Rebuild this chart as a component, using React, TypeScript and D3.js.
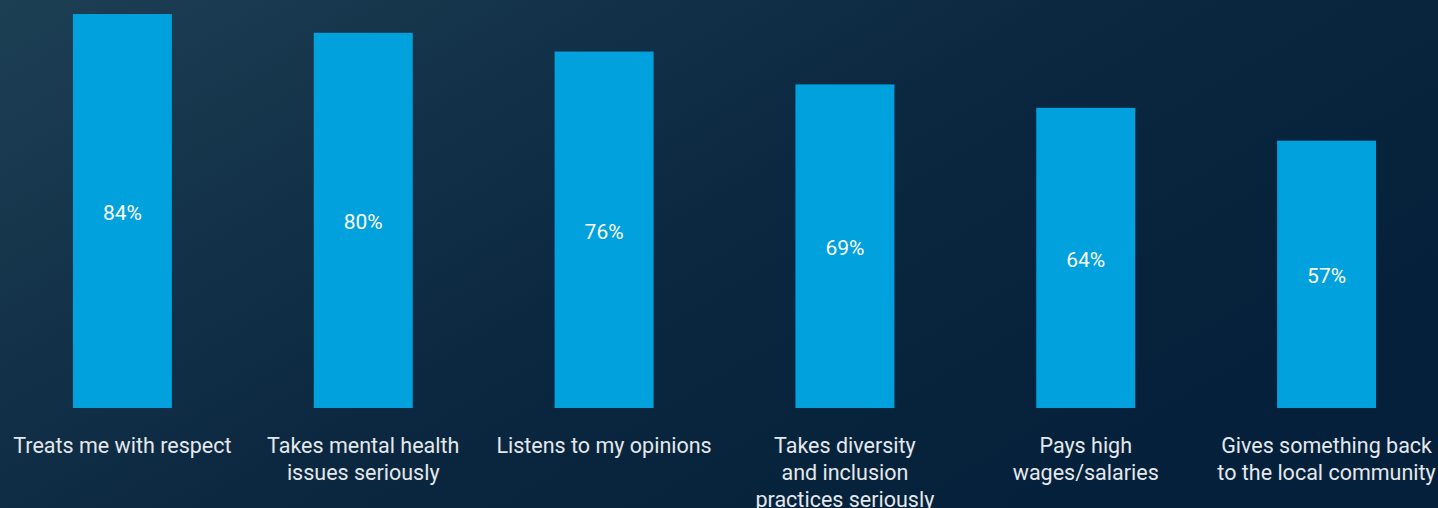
import React from "react";
import * as d3 from "d3";

const categories: string[][] = [
  ["Treats me with respect"],
  ["Takes mental health", "issues seriously"],
  ["Listens to my opinions"],
  ["Takes diversity", "and inclusion", "practices seriously"],
  ["Pays high", "wages/salaries"],
  ["Gives something back", "to the local community"],
];
const values: number[] = [84, 80, 76, 69, 64, 57];

const W = 1438;
const H = 508;

export default function App() {
  const keys = categories.map((c) => c.join(" "));
  const x = d3
    .scaleBand<string>()
    .domain(keys)
    .range([2, 1447])
    .paddingInner(0.589)
    .paddingOuter(0.2945);
  const y = d3.scaleLinear().domain([0, 100]).range([408, 408 - 469]);
  const font = "Roboto, 'DejaVu Sans', sans-serif";

  return (
    <svg
      width={W}
      height={H}
      style={{ position: "absolute", left: 0, top: 0, display: "block" }}
    >
      <defs>
        <linearGradient id="bg" x1="0" y1="0" x2="1" y2="0.6">
          <stop offset="0%" stopColor="#1d3f54" />
          <stop offset="55%" stopColor="#0b2840" />
          <stop offset="100%" stopColor="#04203a" />
        </linearGradient>
      </defs>
      <rect x={0} y={0} width={W} height={H} fill="url(#bg)" />
      {keys.map((k, i) => {
        const bx = x(k)!;
        const bw = x.bandwidth();
        const top = y(values[i]);
        const bottom = y(0);
        const cx = bx + bw / 2;
        return (
          <g key={k}>
            <rect x={bx} y={top} width={bw} height={bottom - top} fill="#00a1dc" />
            <text
              x={cx}
              y={(top + bottom) / 2 + 2}
              textAnchor="middle"
              dominantBaseline="central"
              fill="#ffffff"
              fontFamily={font}
              fontSize={21}
            >
              {values[i]}%
            </text>
            {categories[i].map((line, j) => (
              <text
                key={j}
                x={cx}
                y={453 + j * 27}
                textAnchor="middle"
                fill="#e4e8ec"
                fontFamily={font}
                fontSize={21.5}
              >
                {line}
              </text>
            ))}
          </g>
        );
      })}
    </svg>
  );
}
